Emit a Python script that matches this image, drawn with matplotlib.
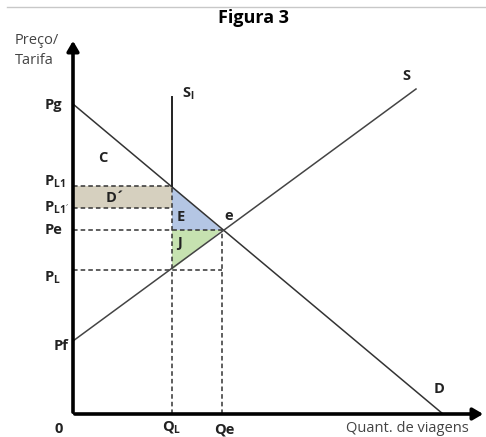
import matplotlib
matplotlib.use("Agg")
import matplotlib.pyplot as plt
from matplotlib.patches import Polygon

plt.rcParams['font.family'] = ['Open Sans', 'DejaVu Sans']
plt.rcParams['mathtext.fontset'] = 'custom'
plt.rcParams['mathtext.rm'] = 'Open Sans'
plt.rcParams['mathtext.bf'] = 'Open Sans:bold'

# price levels and quantities (origin at the axes corner)
p_levels = {'Pg': 310, 'PL1': 228, 'PL1p': 206, 'Pe': 184, 'PL': 144, 'Pf': 73}
q_levels = {'QL': 99, 'Qe': 149}
demand_q = [0, 370]
demand_p = [310, 0]
supply_q = [0, 343]
supply_p = [73, 325]
sl_top = 317

fig = plt.figure(figsize=(4.86, 4.37), dpi=100)
ax = fig.add_axes([0, 0, 1, 1])
ax.set_xlim(-73, 413)
ax.set_ylim(-23, 414)
ax.axis('off')

# header line and title
ax.plot([-66, 413], [407, 407], color='#c8c8c8', lw=1)
ax.text(180, 396, 'Figura 3', ha='center', va='center', fontsize=13, fontweight='bold')

# shaded areas
QL, Qe = q_levels['QL'], q_levels['Qe']
PL1, PL1p, Pe, PL = p_levels['PL1'], p_levels['PL1p'], p_levels['Pe'], p_levels['PL']
ax.add_patch(Polygon([(0, PL1), (QL, PL1), (QL, PL1p), (0, PL1p)], closed=True,
                     facecolor='#d6d0bf', edgecolor='none'))
ax.add_patch(Polygon([(QL, PL1), (QL, Pe), (Qe, Pe)], closed=True,
                     facecolor='#b4c6e4', edgecolor='none'))
ax.add_patch(Polygon([(QL, Pe), (Qe, Pe), (QL, PL)], closed=True,
                     facecolor='#c6e2b0', edgecolor='none'))

# dashed guide lines
dash = dict(color='#333333', lw=1.1, ls=(0, (3, 2)))
ax.plot([0, QL], [PL1, PL1], **dash)
ax.plot([0, QL], [PL1p, PL1p], **dash)
ax.plot([0, Qe], [Pe, Pe], **dash)
ax.plot([0, Qe], [PL, PL], **dash)
ax.plot([Qe, Qe], [0, Pe], **dash)
ax.plot([QL, QL], [0, PL1], **dash)

# curves
ax.plot(demand_q, demand_p, color='#333333', lw=1.1)
ax.plot(supply_q, supply_p, color='#444444', lw=1.1)
ax.plot([QL, QL], [PL1, sl_top], color='#222222', lw=1.4)

# axes with arrows
ax.annotate('', xy=(0, 376), xytext=(0, -1),
            arrowprops=dict(arrowstyle='-|>,head_width=0.35,head_length=0.6', lw=2.6, color='black'))
ax.annotate('', xy=(413, 0), xytext=(-1, 0),
            arrowprops=dict(arrowstyle='-|>,head_width=0.35,head_length=0.6', lw=2.6, color='black'))

# labels
lab = dict(fontsize=10.5, fontweight='bold', color='#222222', va='center')
ax.text(-58, 373, 'Preço/', fontsize=10.5, color='#444444', va='center')
ax.text(-58, 354, 'Tarifa', fontsize=10.5, color='#444444', va='center')
ax.text(-28, 309, 'Pg', ha='left', **lab)
ax.text(-29, 232, r'$\mathbf{P}_{\mathbf{L1}}$', ha='left', **lab)
ax.text(-29, 206, r"$\mathbf{P}_{\mathbf{L1}'}$", ha='left', **lab)
ax.text(-28, 184, 'Pe', ha='left', **lab)
ax.text(-29, 136, r'$\mathbf{P}_{\mathbf{L}}$', ha='left', **lab)
ax.text(-19, 68, 'Pf', ha='left', **lab)
ax.text(-19, -15, '0', ha='left', **lab)
ax.text(QL, -14, r'$\mathbf{Q}_{\mathbf{L}}$', ha='center', **lab)
ax.text(Qe + 2, -16, 'Qe', ha='center', **lab)
ax.text(396, -15, 'Quant. de viagens', ha='right', fontsize=10.5, color='#444444', va='center')
ax.text(30, 256, 'C', ha='center', **lab)
ax.text(42, 216, 'D´', ha='center', **lab)
ax.text(108, 197, 'E', ha='center', **lab)
ax.text(106, 171, 'J', ha='center', **lab)
ax.text(156, 198, 'e', ha='center', **lab)
ax.text(115, 320, r'$\mathbf{S}_{\mathbf{l}}$', ha='center', **lab)
ax.text(333, 338, 'S', ha='center', **lab)
ax.text(366, 25, 'D', ha='center', **lab)

fig.savefig('out.png', dpi=100)
